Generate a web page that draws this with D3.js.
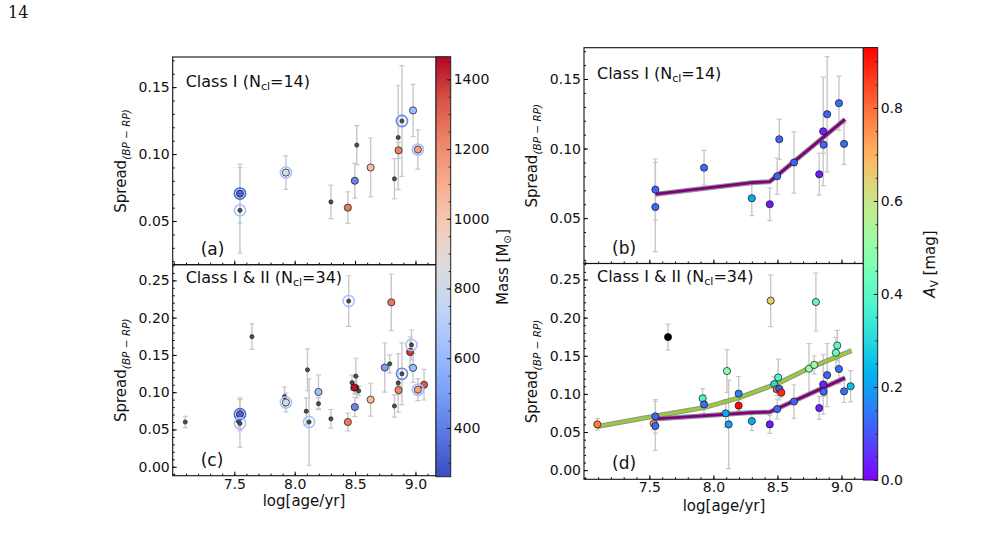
<!DOCTYPE html>
<html>
<head>
<meta charset="utf-8">
<script src="https://cdn.jsdelivr.net/npm/d3@7"></script>
<style>
body { margin: 0; background: white; }
text { font-family: "DejaVu Sans", sans-serif; fill: #111; }
</style>
</head>
<body>
<svg id="chart" width="992" height="541"></svg>
<script>
// cluster values (34 clusters, class I flagged)
var clusterAge = [7.094, 7.547, 7.534, 7.547, 7.646, 7.916, 7.927, 8.096, 8.106, 8.119, 8.197, 8.197,
                  8.300, 8.440, 8.447, 8.475, 8.506, 8.494, 8.514, 8.530, 8.498, 8.629, 8.746, 8.787,
                  8.800, 8.826, 8.857, 8.860, 8.888, 8.956, 8.967, 8.980, 9.020, 9.071];
var clusterSpread = [0.0600, 0.0705, 0.0610, 0.0580, 0.1745, 0.0940, 0.0862, 0.0745, 0.1300, 0.0600, 0.1003, 0.0846,
                     0.0643, 0.0600, 0.2222, 0.1128, 0.1215, 0.1062, 0.1067, 0.1017, 0.0801, 0.0900, 0.1330, 0.1380,
                     0.2205, 0.0815, 0.1124, 0.1028, 0.1247, 0.1540, 0.1634, 0.1326, 0.1034, 0.1100];
var spreadErr = [0.0075, 0.022, 0.008, 0.032, 0.017, 0.013, 0.0125, 0.018, 0.028, 0.058, 0.0225, 0.008,
                 0.0125, 0.0118, 0.034, 0.010, 0.024, 0.008, 0.0145, 0.006, 0.013, 0.022, 0.033, 0.012,
                 0.038, 0.015, 0.039, 0.006, 0.0414, 0.020, 0.020, 0.0195, 0.0147, 0.0205];
var classI = [0, 1, 0, 1, 0, 0, 1, 0, 0, 0, 0, 0, 1, 1, 0, 0, 0, 0, 1, 0, 1, 1, 0, 0, 0, 1, 1, 1, 1, 0, 0, 1, 1, 0];
var clusterMass = [null, 320, null, null, null, null, 820, null, null, null, 640, null,
                   null, 1250, null, null, null, 1450, null, null, 430, 1050, 500, null,
                   1250, null, null, 1230, null, 1380, null, 620, 1150, 1330];
var ringMass = [null, 330, null, 650, null, null, 650, null, null, 650, null, null,
                null, null, 650, null, null, null, null, null, null, null, null, null,
                null, null, null, null, 430, null, 650, null, 620, null];
var clusterAv = [0.78, 0.12, 0.75, 0.13, null, 0.38, 0.13, 0.22, 0.50, 0.20, 0.16, 0.92,
                 0.22, 0.03, 0.66, 0.30, 0.38, 0.80, 0.12, 0.88, 0.12, 0.11, 0.50, 0.52,
                 0.40, 0.03, 0.04, 0.12, 0.12, 0.42, 0.40, 0.13, 0.13, 0.25];

// running trends
var trendAgeI = [7.547, 8.30, 8.44, 9.027];
var trendSpreadI = [0.0672, 0.0755, 0.0762, 0.1210];
var trendAgeAll = [7.094, 7.547, 7.927, 8.197, 8.498, 8.746, 9.079];
var trendSpreadAll = [0.0573, 0.0710, 0.0820, 0.0948, 0.1134, 0.1337, 0.1568];

var xTicks = [7.5, 8.0, 8.5, 9.0];
var yTicksTop = [0.05, 0.10, 0.15];
var yTicksBot = [0.00, 0.05, 0.10, 0.15, 0.20, 0.25];
var massTicks = [400, 600, 800, 1000, 1200, 1400];
var avTicks = [0.0, 0.2, 0.4, 0.6, 0.8];
var massRange = [260, 1465];
var avRange = [0, 0.93];

var coolwarmHex = ["#3b4cc0", "#5977e3", "#7b9ff9", "#9ebeff", "#c0d4f5", "#dddcdc",
                   "#f2cbb7", "#f7ac8e", "#ee8468", "#d65244", "#b40426"];
var coolwarm = d3.piecewise(d3.interpolateRgb, coolwarmHex);
function rainbow(t) {
  t = Math.max(0, Math.min(1, t));
  var r = Math.min(1, Math.abs(2 * t - 0.5));
  var g = Math.sin(Math.PI * t);
  var b = Math.cos(Math.PI * t / 2);
  return d3.rgb(r * 255, g * 255, b * 255).toString();
}
var massNorm = d3.scaleLinear().domain(massRange).range([0, 1]);
var avNorm = d3.scaleLinear().domain(avRange).range([0, 1]);
function massColor(m) { return coolwarm(Math.max(0, Math.min(1, massNorm(m)))); }
function avColor(a) { return a == null ? "#000" : rainbow(avNorm(a)); }

var svg = d3.select("#chart");
var xDomain = [6.99, 9.17];
var yDomTop = [0.0174, 0.1725];
var yDomBot = [-0.012, 0.271];

var allIdx = d3.range(clusterAge.length);
var classIIdx = allIdx.filter(function(i) { return classI[i] === 1; });

var clipId = 0;

function drawPanel(px0, px1, py0, py1, yDom, yMajor, idx, mode, lines, title, titleDy, tag, xLabels) {
  var x = d3.scaleLinear().domain(xDomain).range([px0, px1]);
  var y = d3.scaleLinear().domain(yDom).range([py1, py0]);
  var g = svg.append("g");
  clipId++;
  svg.append("clipPath").attr("id", "c" + clipId)
    .append("rect").attr("x", px0).attr("y", py0).attr("width", px1 - px0).attr("height", py1 - py0);
  var body = g.append("g").attr("clip-path", "url(#c" + clipId + ")");

  // error bars
  idx.forEach(function(i) {
    var cx = x(clusterAge[i]);
    var lo = y(clusterSpread[i] - spreadErr[i]), hi = y(clusterSpread[i] + spreadErr[i]);
    body.append("line").attr("x1", cx).attr("x2", cx).attr("y1", lo).attr("y2", hi)
      .attr("stroke", "#c8c8c8").attr("stroke-width", 1.4);
    [lo, hi].forEach(function(yy) {
      body.append("line").attr("x1", cx - 2.5).attr("x2", cx + 2.5).attr("y1", yy).attr("y2", yy)
        .attr("stroke", "#c8c8c8").attr("stroke-width", 1.2);
    });
  });

  // trend lines
  lines.forEach(function(ln) {
    var pts = ln.ages.map(function(a, k) { return [x(a), y(ln.vals[k])]; });
    var path = d3.line()(pts);
    body.append("path").attr("d", path).attr("fill", "none").attr("stroke", "#7a7a7a")
      .attr("stroke-width", 5).attr("stroke-opacity", 0.8).attr("stroke-linejoin", "round");
    body.append("path").attr("d", path).attr("fill", "none").attr("stroke", ln.color)
      .attr("stroke-width", 2.8).attr("stroke-linejoin", "round");
  });

  if (mode === "mass") {
    idx.filter(function(i) { return clusterMass[i] == null; }).forEach(function(i) {
      body.append("circle").attr("cx", x(clusterAge[i])).attr("cy", y(clusterSpread[i])).attr("r", 2.1)
        .attr("fill", "#4d4d4d").attr("stroke", "#111").attr("stroke-width", 0.6);
    });
    idx.filter(function(i) { return clusterMass[i] != null; }).forEach(function(i) {
      body.append("circle").attr("cx", x(clusterAge[i])).attr("cy", y(clusterSpread[i])).attr("r", 3.6)
        .attr("fill", massColor(clusterMass[i])).attr("stroke", "#111").attr("stroke-width", 0.7);
    });
    idx.filter(function(i) { return ringMass[i] != null; }).forEach(function(i) {
      body.append("circle").attr("cx", x(clusterAge[i])).attr("cy", y(clusterSpread[i])).attr("r", 5.6)
        .attr("fill", "none").attr("stroke", massColor(ringMass[i])).attr("stroke-width", 1.6);
    });
  } else {
    idx.forEach(function(i) {
      body.append("circle").attr("cx", x(clusterAge[i])).attr("cy", y(clusterSpread[i])).attr("r", 3.6)
        .attr("fill", avColor(clusterAv[i])).attr("stroke", "#111").attr("stroke-width", 0.7);
    });
  }

  // axes with inward ticks
  var yMinor = d3.range(Math.ceil(yDom[0] * 100), Math.floor(yDom[1] * 100) + 1).map(function(v) { return v / 100; });
  g.append("g").attr("transform", "translate(" + px0 + ",0)")
    .call(d3.axisLeft(y).tickValues(yMinor).tickSize(-2).tickFormat(""))
    .call(function(s) { s.select(".domain").remove(); });
  g.append("g").attr("transform", "translate(" + px0 + ",0)")
    .call(d3.axisLeft(y).tickValues(yMajor).tickSize(-4).tickPadding(3).tickFormat(d3.format(".2f")))
    .call(function(s) {
      s.select(".domain").remove();
      s.selectAll("text").style("font-size", "14px").attr("fill", "#111");
    });
  var xMinor = d3.range(70, 92).map(function(v) { return v / 10; });
  g.append("g").attr("transform", "translate(0," + py1 + ")")
    .call(d3.axisBottom(x).tickValues(xMinor).tickSize(-2).tickFormat(""))
    .call(function(s) { s.select(".domain").remove(); });
  g.append("g").attr("transform", "translate(0," + py1 + ")")
    .call(d3.axisBottom(x).tickValues(xTicks).tickSize(-4).tickPadding(3)
      .tickFormat(xLabels ? d3.format(".1f") : ""))
    .call(function(s) {
      s.select(".domain").remove();
      s.selectAll("text").style("font-size", "14px").attr("fill", "#111");
    });

  g.append("rect").attr("x", px0).attr("y", py0).attr("width", px1 - px0).attr("height", py1 - py0)
    .attr("fill", "none").attr("stroke", "#111").attr("stroke-width", 1.1);

  var t = g.append("text").attr("x", px0 + 13).attr("y", py0 + titleDy).style("font-size", "16px");
  t.append("tspan").text(title[0]);
  t.append("tspan").attr("dy", 3).style("font-size", "11px").text("cl");
  t.append("tspan").attr("dy", -3).text(title[1]);

  g.append("text").attr("x", px0 + 28).attr("y", py1 - 10).style("font-size", "17px").text(tag);

  // y label
  var yl = g.append("text").attr("transform", "translate(" + (px0 - 47) + "," + ((py0 + py1) / 2) + ") rotate(-90)")
    .attr("text-anchor", "middle").style("font-size", "15px");
  yl.append("tspan").text("Spread");
  yl.append("tspan").attr("dy", 4).style("font-size", "10.5px").style("font-style", "italic").text("(BP \u2212 RP)");
}

function drawColorbar(cx0, cx1, cy0, cy1, domain, colorFn, ticks, minorStep, fmt, gid) {
  var grad = svg.append("defs").append("linearGradient").attr("id", gid)
    .attr("x1", 0).attr("y1", 1).attr("x2", 0).attr("y2", 0);
  d3.range(0, 1.0001, 0.02).forEach(function(t) {
    grad.append("stop").attr("offset", t).attr("stop-color", colorFn(t));
  });
  svg.append("rect").attr("x", cx0).attr("y", cy0).attr("width", cx1 - cx0).attr("height", cy1 - cy0)
    .attr("fill", "url(#" + gid + ")").attr("stroke", "#222").attr("stroke-width", 1);
  var s = d3.scaleLinear().domain(domain).range([cy1, cy0]);
  var minor = d3.range(Math.ceil(domain[0] / minorStep), Math.floor(domain[1] / minorStep) + 1)
    .map(function(k) { return k * minorStep; });
  svg.append("g").attr("transform", "translate(" + cx1 + ",0)")
    .call(d3.axisRight(s).tickValues(minor).tickSize(-2).tickFormat(""))
    .call(function(a) { a.select(".domain").remove(); a.selectAll("line").attr("stroke", "#222"); });
  svg.append("g").attr("transform", "translate(" + cx1 + ",0)")
    .call(d3.axisRight(s).tickValues(ticks).tickSize(-4).tickPadding(3).tickFormat(fmt))
    .call(function(a) {
      a.select(".domain").remove();
      a.selectAll("line").attr("stroke", "#222");
      a.selectAll("text").style("font-size", "14px").attr("fill", "#111");
    });
}

// left column: coloured by mass
drawPanel(172.7, 436, 57, 264.7, yDomTop, yTicksTop, classIIdx, "mass", [],
  ["Class I (N", "=14)"], 30, "(a)", false);
drawPanel(172.7, 436, 264.7, 475.7, yDomBot, yTicksBot, allIdx, "mass", [],
  ["Class I & II (N", "=34)"], 18.5, "(c)", true);
drawColorbar(436, 450.7, 56.7, 476.7, massRange, coolwarm, massTicks, 50, d3.format("d"), "gMass");

// right column: coloured by extinction
drawPanel(584, 863.3, 47.7, 263.5, yDomTop, yTicksTop, classIIdx, "av",
  [{ages: trendAgeI, vals: trendSpreadI, color: "#800080"}],
  ["Class I (N", "=14)"], 31, "(b)", false);
drawPanel(584, 863.3, 263.5, 479.3, yDomBot, yTicksBot, allIdx, "av",
  [{ages: trendAgeAll, vals: trendSpreadAll, color: "#9acd32"},
   {ages: trendAgeI, vals: trendSpreadI, color: "#800080"}],
  ["Class I & II (N", "=34)"], 18.5, "(d)", true);
drawColorbar(863.3, 877.7, 47.5, 480, avRange, rainbow, avTicks, 0.05, d3.format(".1f"), "gAv");

// x labels
svg.append("text").attr("x", 304).attr("y", 506).attr("text-anchor", "middle").style("font-size", "15px").text("log[age/yr]");
svg.append("text").attr("x", 724).attr("y", 511).attr("text-anchor", "middle").style("font-size", "15px").text("log[age/yr]");

// colorbar labels
var ml = svg.append("text").attr("transform", "translate(508,267) rotate(-90)")
  .attr("text-anchor", "middle").style("font-size", "15px");
ml.append("tspan").text("Mass [M");
ml.append("tspan").attr("dy", 3).style("font-size", "10.5px").text("\u2299");
ml.append("tspan").attr("dy", -3).text("]");
var al = svg.append("text").attr("transform", "translate(935,264) rotate(-90)")
  .attr("text-anchor", "middle").style("font-size", "15px");
al.append("tspan").style("font-style", "italic").text("A");
al.append("tspan").attr("dy", 3).style("font-size", "10.5px").text("V");
al.append("tspan").attr("dy", -3).text(" [mag]");

// page number
svg.append("text").attr("x", 8).attr("y", 18).style("font-family", "'DejaVu Serif', serif").style("font-size", "16px").text("14");
</script>
</body>
</html>
